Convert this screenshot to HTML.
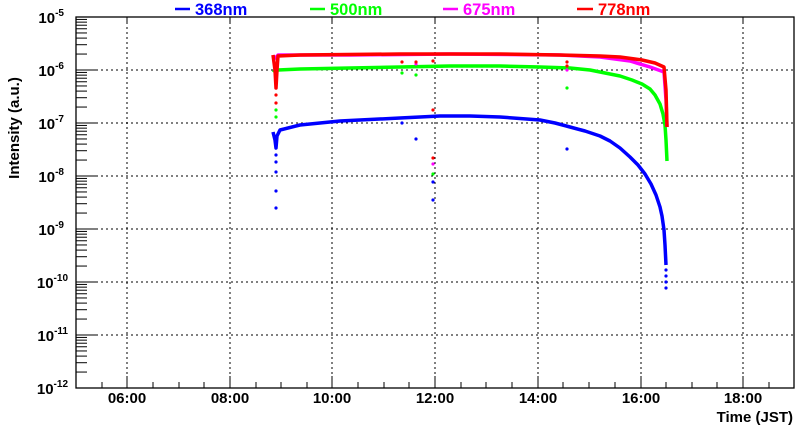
<!DOCTYPE html>
<html><head><meta charset="utf-8"><style>
html,body{margin:0;padding:0;background:#fff;}
svg{display:block;font-family:"Liberation Sans",Arial,sans-serif;font-weight:bold;}
</style></head><body>
<svg width="800" height="427" viewBox="0 0 800 427" xmlns="http://www.w3.org/2000/svg">
<defs>
<g id="dec" stroke="#000" stroke-width="1">
<line x1="0" y1="-15.95" x2="11" y2="-15.95"/><line x1="0" y1="-25.29" x2="11" y2="-25.29"/>
<line x1="0" y1="-31.9" x2="11" y2="-31.9"/><line x1="0" y1="-37.04" x2="11" y2="-37.04"/>
<line x1="0" y1="-41.24" x2="11" y2="-41.24"/><line x1="0" y1="-44.79" x2="11" y2="-44.79"/>
<line x1="0" y1="-47.86" x2="11" y2="-47.86"/><line x1="0" y1="-50.57" x2="11" y2="-50.57"/>
</g>
</defs>
<g stroke="#000" stroke-width="1" stroke-dasharray="2,3">
<line x1="127" y1="17" x2="127" y2="388"/><line x1="230" y1="17" x2="230" y2="388"/>
<line x1="332" y1="17" x2="332" y2="388"/><line x1="435" y1="17" x2="435" y2="388"/>
<line x1="538" y1="17" x2="538" y2="388"/><line x1="641" y1="17" x2="641" y2="388"/>
<line x1="743" y1="17" x2="743" y2="388"/>
<line x1="76" y1="70" x2="794" y2="70"/><line x1="76" y1="123" x2="794" y2="123"/>
<line x1="76" y1="176" x2="794" y2="176"/><line x1="76" y1="229" x2="794" y2="229"/>
<line x1="76" y1="282" x2="794" y2="282"/><line x1="76" y1="335" x2="794" y2="335"/>
</g>
<use href="#dec" x="76" y="70"/><use href="#dec" x="76" y="123"/><use href="#dec" x="76" y="176"/>
<use href="#dec" x="76" y="229"/><use href="#dec" x="76" y="282"/><use href="#dec" x="76" y="335"/><use href="#dec" x="76" y="388"/>
<g stroke="#000" stroke-width="1">
<line x1="76" y1="70" x2="98" y2="70"/><line x1="76" y1="123" x2="98" y2="123"/><line x1="76" y1="176" x2="98" y2="176"/>
<line x1="76" y1="229" x2="98" y2="229"/><line x1="76" y1="282" x2="98" y2="282"/><line x1="76" y1="335" x2="98" y2="335"/>
</g>
<g stroke="#000" stroke-width="1">
<line x1="102" y1="382" x2="102" y2="388"/><line x1="127" y1="376" x2="127" y2="388"/><line x1="153" y1="382" x2="153" y2="388"/>
<line x1="179" y1="382" x2="179" y2="388"/><line x1="204" y1="382" x2="204" y2="388"/><line x1="230" y1="376" x2="230" y2="388"/>
<line x1="256" y1="382" x2="256" y2="388"/><line x1="281" y1="382" x2="281" y2="388"/><line x1="307" y1="382" x2="307" y2="388"/>
<line x1="332" y1="376" x2="332" y2="388"/><line x1="358" y1="382" x2="358" y2="388"/><line x1="384" y1="382" x2="384" y2="388"/>
<line x1="409" y1="382" x2="409" y2="388"/><line x1="435" y1="376" x2="435" y2="388"/><line x1="461" y1="382" x2="461" y2="388"/>
<line x1="486" y1="382" x2="486" y2="388"/><line x1="512" y1="382" x2="512" y2="388"/><line x1="538" y1="376" x2="538" y2="388"/>
<line x1="563" y1="382" x2="563" y2="388"/><line x1="589" y1="382" x2="589" y2="388"/><line x1="615" y1="382" x2="615" y2="388"/>
<line x1="641" y1="376" x2="641" y2="388"/><line x1="666" y1="382" x2="666" y2="388"/><line x1="692" y1="382" x2="692" y2="388"/>
<line x1="717" y1="382" x2="717" y2="388"/><line x1="743" y1="376" x2="743" y2="388"/><line x1="769" y1="382" x2="769" y2="388"/>
<line x1="127" y1="17" x2="127" y2="23"/><line x1="230" y1="17" x2="230" y2="23"/><line x1="332" y1="17" x2="332" y2="23"/>
<line x1="435" y1="17" x2="435" y2="23"/><line x1="538" y1="17" x2="538" y2="23"/><line x1="641" y1="17" x2="641" y2="23"/><line x1="743" y1="17" x2="743" y2="23"/>
</g>
<rect x="76" y="17" width="718" height="371" fill="none" stroke="#000" stroke-width="1.3"/>
<g fill="none" stroke-width="3.5" stroke-linejoin="round">
<polyline stroke="#00ff00" points="273,70 276,72 278,70 300,69 350,68 400,67 450,66 500,66 540,67 570,68 590,70 605,73 620,76 632,80 642,84 650,89 655,95 660,104 663,114 665,125 666,140 667,161"/>
<polyline stroke="#ff00ff" points="273,56 276,58 278,55 350,55 450,54 560,55 600,57 630,61 650,67 664,72 666,100 667,127"/>
<polyline stroke="#ff0000" points="273,55 275,70 276,88 277,70 278,56 300,55 400,54 500,54 560,55 600,56 620,57 642,60 655,63 664,67 666,90 667,127"/>
<polyline stroke="#0000ff" points="273,132 275,140 276,148 277,136 280,130 300,125 340,121 400,118 440,116 470,116 500,117 540,120 555,123 570,127 585,131 600,136 610,141 620,148 630,157 638,165 645,174 651,184 656,195 660,207 662,216 664,230 665,245 666,265"/>
</g>
<g fill="#0000ff">
<circle cx="276" cy="155" r="1.6"/><circle cx="276" cy="162" r="1.6"/><circle cx="276" cy="172" r="1.6"/><circle cx="276" cy="191" r="1.6"/><circle cx="276" cy="208" r="1.6"/>
<circle cx="402" cy="123" r="1.6"/><circle cx="416" cy="139" r="1.6"/><circle cx="433" cy="182" r="1.6"/><circle cx="433" cy="200" r="1.6"/><circle cx="567" cy="149" r="1.6"/>
<circle cx="666" cy="270" r="1.6"/><circle cx="666" cy="276" r="1.6"/><circle cx="666" cy="282" r="1.6"/><circle cx="666" cy="288" r="1.6"/>
</g>
<g fill="#00ff00">
<circle cx="402" cy="73" r="1.6"/><circle cx="416" cy="75" r="1.6"/><circle cx="433" cy="174" r="1.6"/><circle cx="567" cy="88" r="1.6"/><circle cx="276" cy="110" r="1.6"/><circle cx="276" cy="117" r="1.6"/>
</g>
<g fill="#ff00ff"><circle cx="433" cy="164" r="1.6"/><circle cx="416" cy="64" r="1.6"/><circle cx="567" cy="70" r="1.6"/></g>
<g fill="#ff0000">
<circle cx="402" cy="62" r="1.6"/><circle cx="416" cy="62" r="1.6"/><circle cx="433" cy="61" r="1.6"/><circle cx="433" cy="110" r="1.6"/><circle cx="433" cy="158" r="1.6"/><circle cx="567" cy="62" r="1.6"/><circle cx="567" cy="66" r="1.6"/>
<circle cx="276" cy="95" r="1.6"/><circle cx="276" cy="103" r="1.6"/>
</g>
<g font-size="15" text-anchor="end">
<text x="64" y="23">10<tspan font-size="10" dy="-7">-5</tspan></text>
<text x="64" y="76">10<tspan font-size="10" dy="-7">-6</tspan></text>
<text x="64" y="129">10<tspan font-size="10" dy="-7">-7</tspan></text>
<text x="64" y="182">10<tspan font-size="10" dy="-7">-8</tspan></text>
<text x="64" y="235">10<tspan font-size="10" dy="-7">-9</tspan></text>
<text x="68" y="288">10<tspan font-size="10" dy="-7">-10</tspan></text>
<text x="68" y="341">10<tspan font-size="10" dy="-7">-11</tspan></text>
<text x="68" y="394">10<tspan font-size="10" dy="-7">-12</tspan></text>
</g>
<g font-size="15" text-anchor="middle">
<text x="127" y="403">06:00</text><text x="230" y="403">08:00</text><text x="332" y="403">10:00</text>
<text x="435" y="403">12:00</text><text x="538" y="403">14:00</text><text x="641" y="403">16:00</text><text x="743" y="403">18:00</text>
</g>
<text x="793" y="422" font-size="15" text-anchor="end">Time (JST)</text>
<text transform="translate(19,128) rotate(-90)" font-size="15" text-anchor="middle">Intensity (a.u.)</text>
<g font-size="16.5">
<line x1="175" y1="9" x2="190" y2="9" stroke="#0000ff" stroke-width="2.5"/><text x="195" y="15" fill="#0000ff">368nm</text>
<line x1="310" y1="9" x2="325" y2="9" stroke="#00ff00" stroke-width="2.5"/><text x="330" y="15" fill="#00ff00">500nm</text>
<line x1="443" y1="9" x2="458" y2="9" stroke="#ff00ff" stroke-width="2.5"/><text x="463" y="15" fill="#ff00ff">675nm</text>
<line x1="577" y1="9" x2="593" y2="9" stroke="#ff0000" stroke-width="2.5"/><text x="598" y="15" fill="#ff0000">778nm</text>
</g>
</svg>
</body></html>
